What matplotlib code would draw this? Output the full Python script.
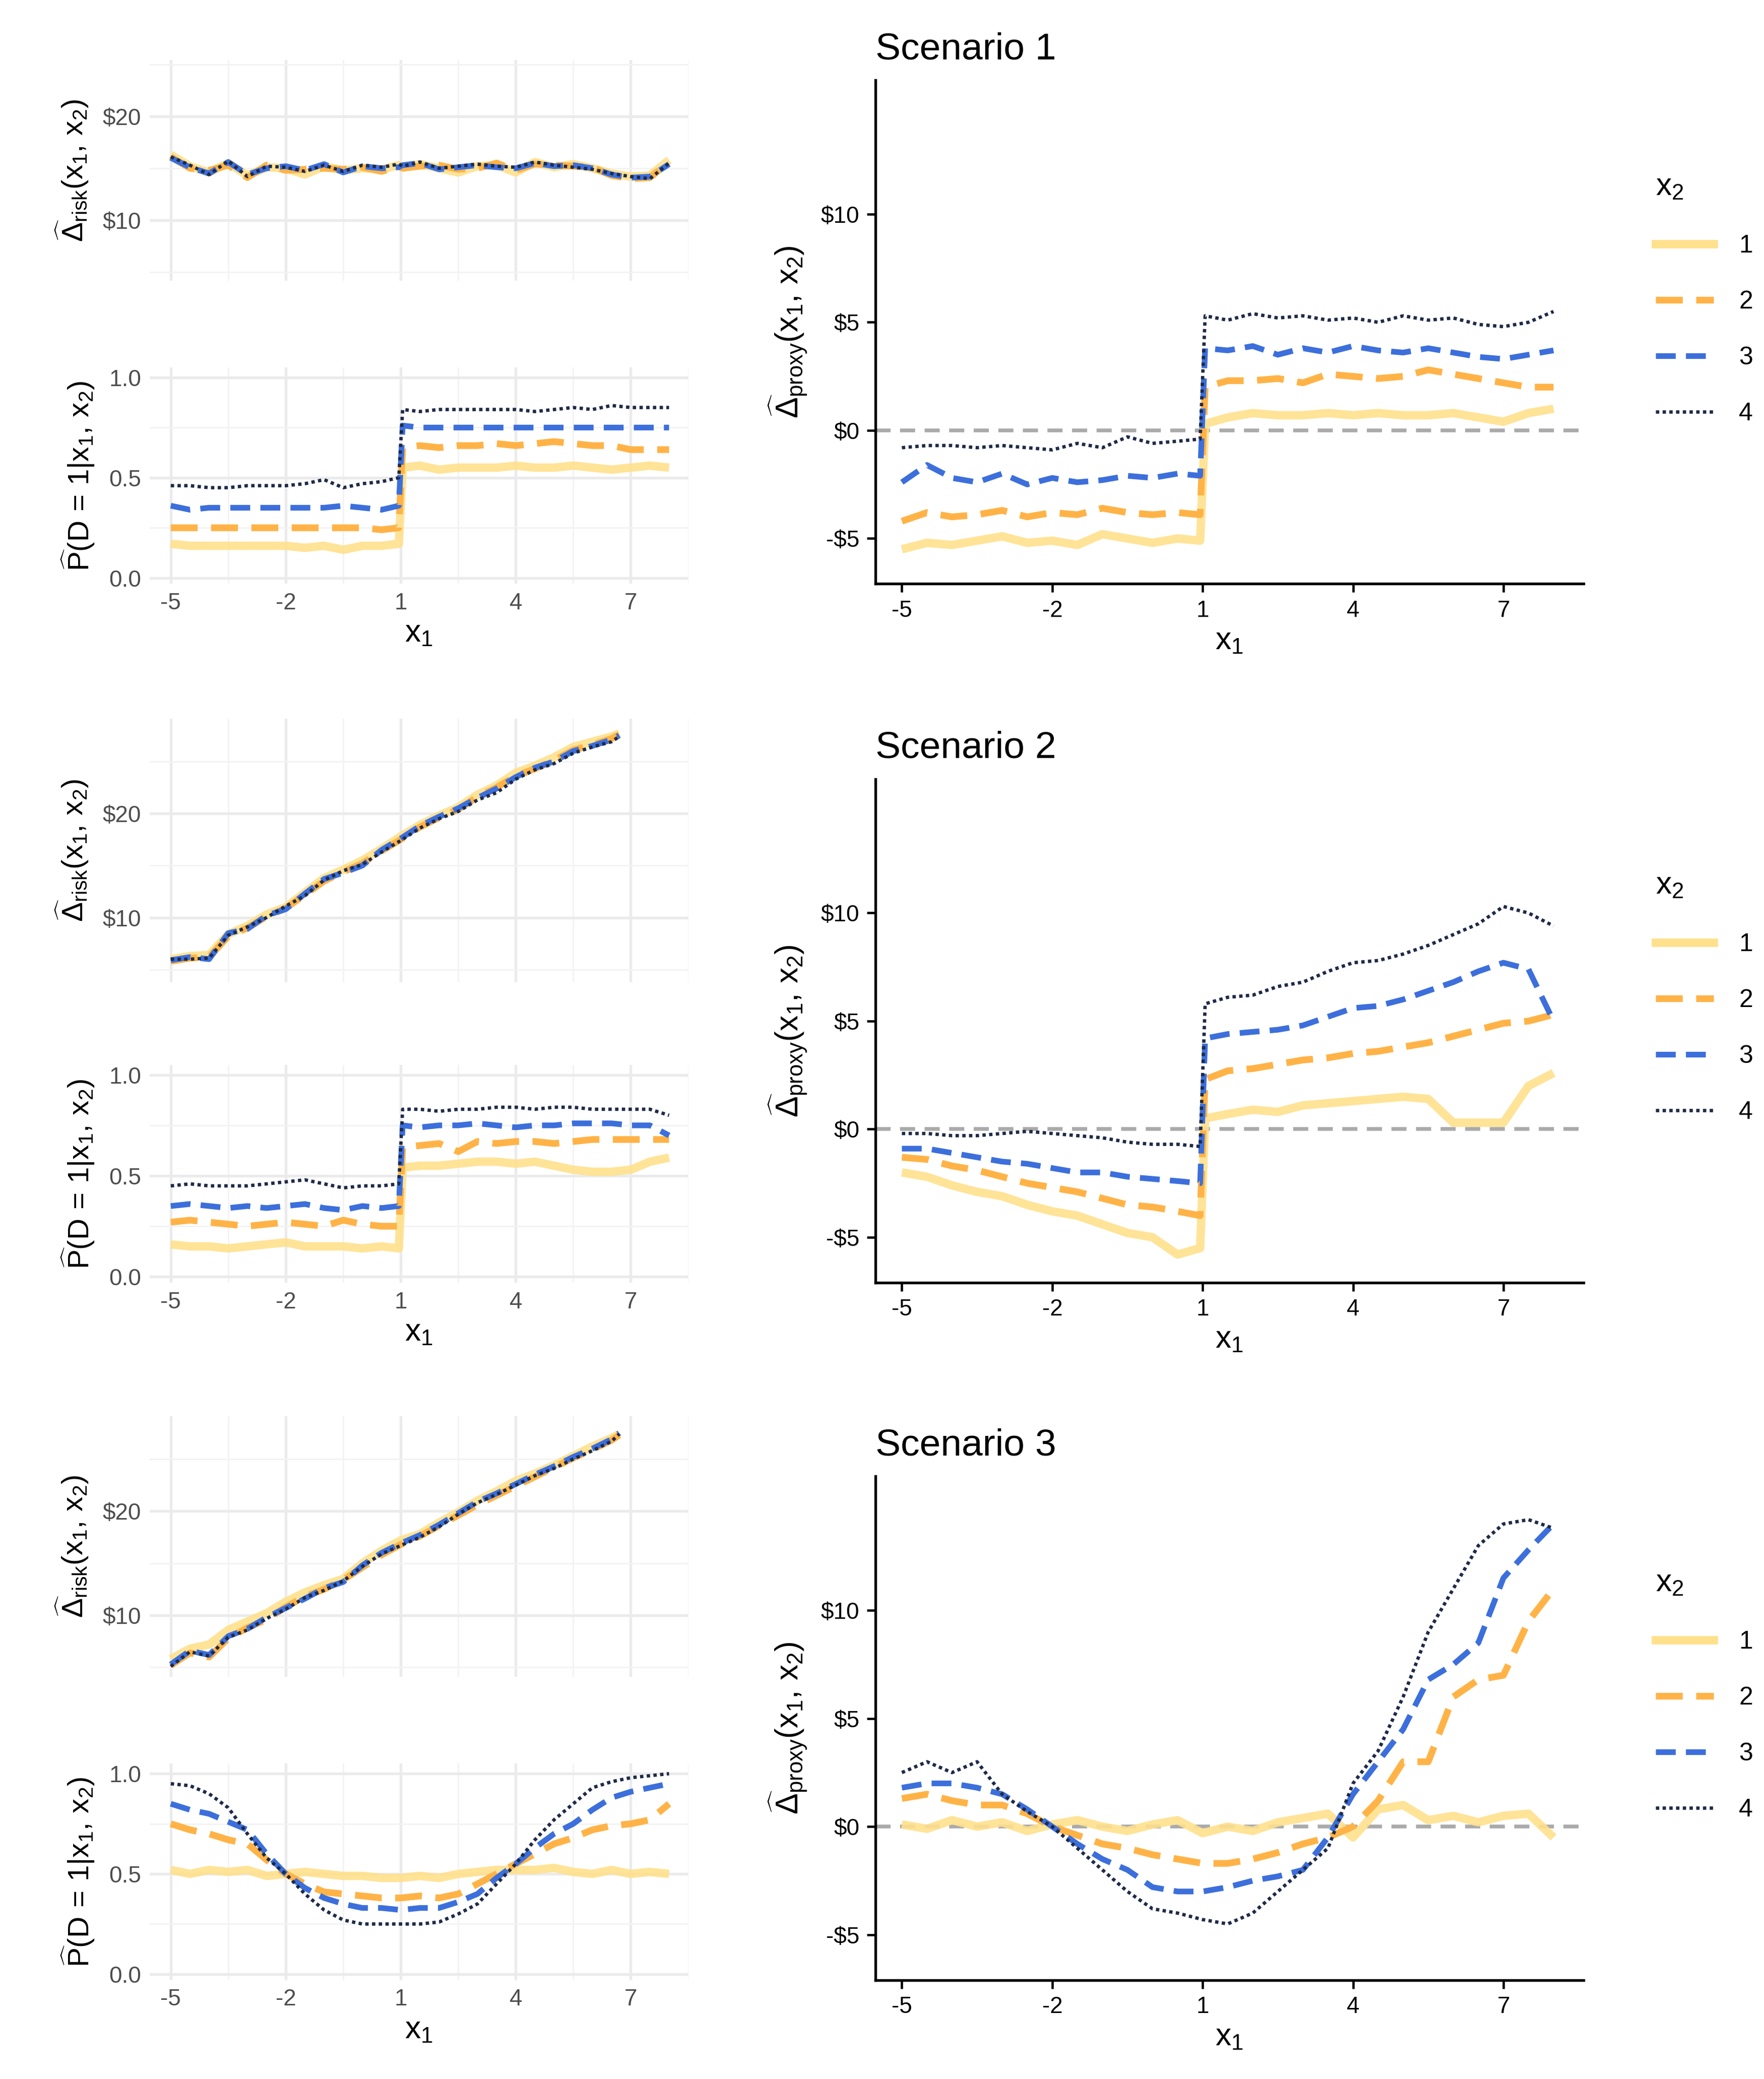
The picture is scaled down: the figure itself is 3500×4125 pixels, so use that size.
import matplotlib
matplotlib.use("Agg")
import matplotlib.pyplot as plt
import numpy as np
from matplotlib.lines import Line2D

plt.rcParams['font.family'] = ['Liberation Sans', 'DejaVu Sans']
plt.rcParams['mathtext.fontset'] = 'custom'
plt.rcParams['mathtext.rm'] = 'Liberation Sans'
plt.rcParams['mathtext.it'] = 'Liberation Sans'
plt.rcParams['mathtext.bf'] = 'Liberation Sans:bold'
plt.rcParams['axes.unicode_minus'] = False

# ---------------- data ----------------
XS = [-5,-4.5,-4,-3.5,-3,-2.5,-2,-1.5,-1,-0.5,0,0.5,0.95,1.05,1.5,2,2.5,3,3.5,4,4.5,5,5.5,6,6.5,7,7.5,8]
XR = [-5,-4.5,-4,-3.5,-3,-2.5,-2,-1.5,-1,-0.5,0,0.5,1,1.5,2,2.5,3,3.5,4,4.5,5,5.5,6,6.5,6.7]
X3 = [-5,-4.5,-4,-3.5,-3,-2.5,-2,-1.5,-1,-0.5,0,0.5,1,1.5,2,2.5,3,3.5,4,4.5,5,5.5,6,6.5,7,7.5,8]

s1_risk = [
 [16.3,15.2,14.6,15.5,14.3,15.1,15.0,14.4,15.2,14.8,15.0,14.9,15.3,15.1,15.4,15.0,14.6,15.2,15.3,14.6,15.6,15.1,15.4,15.0,14.5,14.2,14.3,15.8],
 [16.1,15.0,14.8,15.3,14.1,15.3,14.8,14.9,15.0,14.9,15.1,14.7,15.2,15.0,15.2,15.3,14.9,15.0,15.5,14.8,15.4,15.3,15.2,15.1,14.3,14.0,14.1,15.6],
 [16.0,15.1,14.5,15.6,14.4,15.0,15.2,14.8,15.4,14.6,15.2,15.0,15.1,15.3,15.5,14.9,15.1,15.3,15.1,15.0,15.5,15.2,15.3,15.0,14.4,14.1,14.2,15.4],
 [16.1,15.3,14.4,15.7,14.2,15.2,15.1,14.7,15.3,14.7,15.3,15.1,15.4,15.2,15.6,15.0,15.2,15.4,15.2,15.1,15.6,15.3,15.1,14.9,14.5,14.2,14.0,15.5]]
s1_p = [
 [0.17,0.16,0.16,0.16,0.16,0.16,0.16,0.15,0.16,0.14,0.16,0.16,0.17,0.55,0.56,0.54,0.55,0.55,0.55,0.56,0.55,0.55,0.56,0.55,0.54,0.55,0.56,0.55],
 [0.25,0.25,0.25,0.25,0.25,0.25,0.25,0.25,0.25,0.25,0.25,0.24,0.25,0.65,0.66,0.65,0.66,0.66,0.67,0.66,0.67,0.68,0.67,0.66,0.66,0.64,0.64,0.64],
 [0.36,0.34,0.35,0.35,0.35,0.35,0.35,0.35,0.35,0.36,0.35,0.34,0.36,0.76,0.75,0.75,0.75,0.75,0.75,0.75,0.75,0.75,0.75,0.75,0.75,0.75,0.75,0.75],
 [0.46,0.46,0.45,0.45,0.46,0.46,0.46,0.47,0.49,0.45,0.47,0.48,0.50,0.84,0.83,0.84,0.84,0.84,0.84,0.84,0.83,0.84,0.85,0.84,0.86,0.85,0.85,0.85]]
s1_proxy = [
 [-5.5,-5.2,-5.3,-5.1,-4.9,-5.2,-5.1,-5.3,-4.8,-5.0,-5.2,-5.0,-5.1,0.3,0.6,0.8,0.7,0.7,0.8,0.7,0.8,0.7,0.7,0.8,0.6,0.4,0.8,1.0],
 [-4.2,-3.8,-4.0,-3.9,-3.7,-4.0,-3.8,-3.9,-3.6,-3.8,-3.9,-3.8,-3.9,2.0,2.3,2.3,2.4,2.2,2.6,2.5,2.4,2.5,2.8,2.6,2.4,2.2,2.0,2.0],
 [-2.4,-1.6,-2.2,-2.4,-2.0,-2.5,-2.2,-2.4,-2.3,-2.1,-2.2,-2.0,-2.1,3.8,3.7,3.9,3.5,3.8,3.6,3.9,3.7,3.6,3.8,3.6,3.4,3.3,3.5,3.7],
 [-0.8,-0.7,-0.7,-0.8,-0.7,-0.8,-0.9,-0.6,-0.8,-0.3,-0.6,-0.5,-0.4,5.3,5.1,5.4,5.2,5.3,5.1,5.2,5.0,5.3,5.1,5.2,4.9,4.8,5.0,5.5]]

s2_risk = [
 [6.0,6.3,6.4,8.4,9.2,10.3,11.0,12.4,13.8,14.6,15.5,16.6,17.8,18.9,19.8,20.6,21.8,22.7,23.9,24.6,25.4,26.4,26.9,27.4,27.7],
 [5.8,6.1,6.2,8.2,9.0,10.1,10.9,12.2,13.5,14.4,15.2,16.4,17.5,18.7,19.6,20.4,21.6,22.5,23.6,24.3,25.1,26.1,26.6,27.2,27.6],
 [5.9,6.2,6.0,8.5,8.9,10.2,10.8,12.3,13.7,14.3,15.0,16.5,17.6,18.8,19.7,20.5,21.5,22.4,23.5,24.4,25.0,26.0,26.5,27.1,27.5],
 [6.0,6.0,6.1,8.3,9.1,10.0,11.1,12.1,13.6,14.5,15.1,16.3,17.4,18.6,19.5,20.2,21.3,22.0,23.3,24.2,24.8,25.8,26.4,26.9,27.4]]
s2_p = [
 [0.16,0.15,0.15,0.14,0.15,0.16,0.17,0.15,0.15,0.15,0.14,0.15,0.14,0.54,0.55,0.55,0.56,0.57,0.57,0.56,0.57,0.55,0.53,0.52,0.52,0.53,0.57,0.59],
 [0.27,0.28,0.27,0.26,0.25,0.26,0.27,0.26,0.25,0.28,0.26,0.25,0.25,0.64,0.65,0.66,0.62,0.67,0.66,0.67,0.67,0.66,0.67,0.68,0.68,0.68,0.68,0.68],
 [0.35,0.36,0.35,0.34,0.35,0.34,0.35,0.36,0.34,0.33,0.35,0.34,0.35,0.75,0.74,0.75,0.75,0.76,0.75,0.74,0.75,0.75,0.76,0.76,0.76,0.75,0.75,0.70],
 [0.45,0.46,0.45,0.45,0.45,0.46,0.47,0.48,0.46,0.44,0.45,0.45,0.46,0.83,0.83,0.82,0.83,0.83,0.84,0.84,0.83,0.84,0.84,0.83,0.83,0.83,0.83,0.80]]
s2_proxy = [
 [-2.0,-2.2,-2.6,-2.9,-3.1,-3.5,-3.8,-4.0,-4.4,-4.8,-5.0,-5.8,-5.5,0.5,0.7,0.9,0.8,1.1,1.2,1.3,1.4,1.5,1.4,0.3,0.3,0.3,2.0,2.6],
 [-1.3,-1.4,-1.7,-1.9,-2.2,-2.5,-2.7,-2.9,-3.2,-3.5,-3.6,-3.8,-4.0,2.3,2.7,2.8,3.0,3.2,3.3,3.5,3.6,3.8,4.0,4.3,4.6,4.9,5.0,5.3],
 [-0.9,-0.9,-1.1,-1.3,-1.5,-1.6,-1.8,-2.0,-2.0,-2.2,-2.3,-2.4,-2.5,4.2,4.4,4.5,4.6,4.8,5.2,5.6,5.7,6.0,6.4,6.8,7.3,7.7,7.4,5.0],
 [-0.2,-0.2,-0.3,-0.3,-0.2,-0.1,-0.2,-0.3,-0.4,-0.6,-0.7,-0.7,-0.8,5.8,6.1,6.2,6.6,6.8,7.3,7.7,7.8,8.1,8.5,9.0,9.5,10.3,10.0,9.4]]

s3_risk = [
 [5.8,6.8,7.2,8.6,9.4,10.2,11.3,12.2,12.9,13.5,15.0,16.2,17.2,17.8,18.9,19.9,21.0,21.9,22.9,23.6,24.4,25.3,26.2,27.0,27.4],
 [5.2,6.4,6.0,7.8,8.8,9.6,10.8,11.8,12.5,13.4,14.6,15.8,16.8,17.6,18.6,19.6,20.6,21.5,22.4,23.3,24.2,25.1,25.9,26.8,27.3],
 [5.3,6.6,6.2,8.0,8.7,9.8,10.7,11.6,12.6,13.2,14.8,16.0,16.9,17.7,18.7,19.8,20.9,21.7,22.6,23.5,24.3,25.2,26.0,26.9,27.5],
 [5.1,6.5,6.1,7.9,8.6,9.7,10.6,11.7,12.4,13.3,14.7,15.9,16.7,17.5,18.5,19.7,20.8,21.6,22.5,23.4,24.1,25.0,25.8,26.7,27.4]]
s3_p = [
 [0.52,0.50,0.52,0.51,0.52,0.49,0.50,0.51,0.50,0.49,0.49,0.48,0.48,0.49,0.48,0.50,0.51,0.52,0.52,0.52,0.53,0.51,0.50,0.52,0.50,0.51,0.50],
 [0.75,0.72,0.70,0.67,0.65,0.57,0.50,0.45,0.41,0.40,0.39,0.38,0.38,0.39,0.38,0.40,0.45,0.50,0.55,0.60,0.65,0.68,0.72,0.74,0.75,0.77,0.85],
 [0.85,0.82,0.80,0.76,0.72,0.60,0.50,0.43,0.38,0.35,0.33,0.33,0.32,0.33,0.33,0.36,0.40,0.48,0.55,0.63,0.70,0.75,0.82,0.88,0.91,0.93,0.95],
 [0.95,0.94,0.90,0.83,0.70,0.58,0.50,0.40,0.32,0.27,0.25,0.25,0.25,0.25,0.26,0.30,0.35,0.45,0.55,0.67,0.77,0.85,0.93,0.96,0.98,0.99,1.00]]
s3_proxy = [
 [0.1,-0.1,0.3,0.0,0.2,-0.2,0.1,0.3,0.0,-0.2,0.1,0.3,-0.3,0.0,-0.2,0.2,0.4,0.6,-0.5,0.8,1.0,0.3,0.5,0.2,0.5,0.6,-0.5],
 [1.3,1.5,1.2,1.0,1.0,0.6,0.0,-0.4,-0.8,-1.0,-1.3,-1.5,-1.7,-1.7,-1.5,-1.2,-0.8,-0.5,0.0,1.2,3.0,3.0,6.0,6.8,7.0,9.5,11.0],
 [1.8,2.0,2.0,1.8,1.5,0.8,0.0,-0.8,-1.5,-2.0,-2.8,-3.0,-3.0,-2.8,-2.5,-2.3,-2.0,-0.5,1.5,3.0,4.5,6.8,7.5,8.5,11.5,12.8,14.0],
 [2.5,3.0,2.5,3.0,1.5,0.7,0.0,-1.0,-2.0,-3.0,-3.8,-4.0,-4.3,-4.5,-4.0,-3.0,-2.0,-1.0,2.0,3.5,6.0,9.0,11.0,13.0,14.0,14.2,13.8]]

scen_titles = ["Scenario 1", "Scenario 2", "Scenario 3"]
labels = ["1", "2", "3", "4"]
xticks = [-5, -2, 1, 4, 7]

colors = ["#FFE08C", "#FFB347", "#3C6FDB", "#1F2A48"]
styles = ['-', (0, (4, 2)), (0, (3.5, 1.8)), (0, (1, 1))]
widths = [4.0, 3.2, 2.7, 1.6]

# ---------------- layout ----------------
W, H = 1320.0, 1556.0
def rect(x0, x1, y0, y1):
    return [x0 / W, 1 - y1 / H, (x1 - x0) / W, (y1 - y0) / H]

fig = plt.figure(figsize=(3500/300, 4125/300), dpi=300)

rows = [
    dict(risk=(45, 210), p=(275, 437), prox=(60, 437), riskx=XS, px=XS, risk_y=s1_risk, p_y=s1_p, prox_y=s1_proxy, rlim=(4.2, 25.4)),
    dict(risk=(538, 735), p=(797, 960), prox=(583, 960), riskx=XR, px=XS, risk_y=s2_risk, p_y=s2_p, prox_y=s2_proxy, rlim=(3.8, 29.1)),
    dict(risk=(1060, 1255), p=(1320, 1482), prox=(1105, 1482), riskx=XR, px=X3, risk_y=s3_risk, p_y=s3_p, prox_y=s3_proxy, rlim=(4.1, 29.1)),
]

def minimal(ax):
    for s in ax.spines.values():
        s.set_visible(False)
    ax.set_xlim(-5.55, 8.5)
    ax.set_xticks(xticks)
    ax.set_xticks([-3.5, -0.5, 2.5, 5.5, 8.5], minor=True)
    ax.grid(True, which='major', color='#EBEBEB', lw=1.3)
    ax.grid(True, which='minor', color='#F3F3F3', lw=0.7)
    ax.tick_params(which='both', length=0, labelsize=11, colors='#4D4D4D', pad=4)
    ax.set_axisbelow(True)

def draw(ax, x, ys):
    for i in range(4):
        ax.plot(x, ys[i], color=colors[i], ls=styles[i], lw=widths[i],
                alpha=0.9 if i == 0 else 1.0, solid_capstyle='butt', dash_capstyle='butt')

for r, row in enumerate(rows):
    ax = fig.add_axes(rect(112, 515, *row['risk']))
    minimal(ax)
    draw(ax, row['riskx'], row['risk_y'])
    ax.set_ylim(*row['rlim'])
    ax.set_yticks([10, 20])
    ax.set_yticks([5, 15, 25], minor=True)
    ax.set_yticklabels(["$10", "$20"])
    ax.tick_params(axis='x', labelbottom=False)
    ax.set_ylabel(r'$\widehat{\Delta}_{\mathrm{risk}}(\mathrm{x}_1,\,\mathrm{x}_2)$', fontsize=14, labelpad=6)

    ax = fig.add_axes(rect(112, 515, *row['p']))
    minimal(ax)
    draw(ax, row['px'], row['p_y'])
    ax.set_ylim(-0.03, 1.05)
    ax.set_yticks([0, 0.5, 1.0])
    ax.set_yticks([0.25, 0.75], minor=True)
    ax.set_yticklabels(["0.0", "0.5", "1.0"])
    ax.set_xlabel(r'$\mathrm{x}_1$', fontsize=15, labelpad=2)
    ax.set_ylabel(r'$\widehat{\mathrm{P}}(\mathrm{D}\,=\,1|\mathrm{x}_1,\,\mathrm{x}_2)$', fontsize=14, labelpad=6)

    ax = fig.add_axes(rect(655, 1185, *row['prox']))
    for s in ['top', 'right']:
        ax.spines[s].set_visible(False)
    for s in ['left', 'bottom']:
        ax.spines[s].set_linewidth(1.3)
    ax.axhline(0, color='#AAAAAA', ls=(0, (4, 2.5)), lw=1.8, zorder=1)
    draw(ax, row['px'], row['prox_y'])
    ax.set_xlim(-5.53, 8.6)
    ax.set_ylim(-7.1, 16.2)
    ax.set_xticks(xticks)
    ax.set_yticks([-5, 0, 5, 10])
    ax.set_yticklabels(["-$5", "$0", "$5", "$10"])
    ax.tick_params(labelsize=11, colors='black', length=4, width=1.1)
    ax.set_xlabel(r'$\mathrm{x}_1$', fontsize=15, labelpad=2)
    ax.set_ylabel(r'$\widehat{\Delta}_{\mathrm{proxy}}(\mathrm{x}_1,\,\mathrm{x}_2)$', fontsize=15, labelpad=6)
    ax.set_title(scen_titles[r], fontsize=18, loc='left', pad=10)

    handles = [Line2D([0], [0], color=colors[i], ls=styles[i], lw=widths[i]) for i in range(4)]
    yc = (row['prox'][0] + row['prox'][1]) / 2
    leg = fig.legend(handles, labels, title=r'$\mathrm{x}_2$', loc='center left',
                     bbox_to_anchor=(1222 / W, 1 - (yc - 25) / H), frameon=False,
                     fontsize=12, title_fontsize=15, handlelength=2.3, labelspacing=1.3,
                     handletextpad=1.0)
    leg._legend_box.align = 'left'

fig.savefig("out.png", dpi=300)
